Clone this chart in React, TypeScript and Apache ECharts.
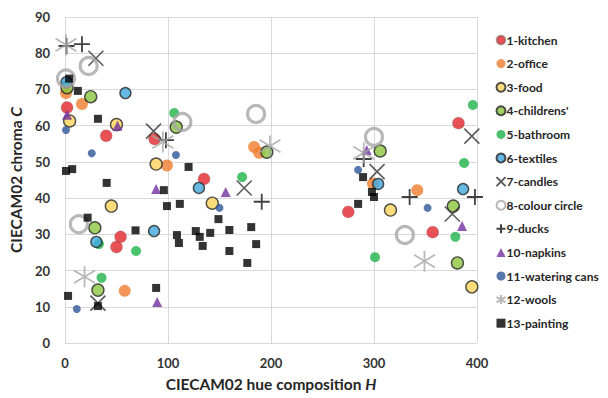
import React, { useEffect, useRef } from "react";
import * as echarts from "echarts";

const seriesNames = [
  "1-kitchen", "2-office", "3-food", "4-childrens'", "5-bathroom", "6-textiles",
  "7-candles", "8-colour circle", "9-ducks", "10-napkins", "11-watering cans", "12-wools", "13-painting",
];

const kitchen = [[2, 65], [40, 57.2], [87, 56.3], [50, 26.5], [54, 29.3], [135, 45.3], [275, 36.2], [357, 30.6], [382, 60.7]];
const office = [[1, 69], [16.5, 66], [99, 49], [58, 14.4], [183.6, 54.1], [188.5, 52.5], [299, 44], [342, 42.2]];
const food = [[4.5, 61.3], [50, 60.3], [88.5, 49.4], [45, 37.8], [143, 38.6], [316, 36.7], [395, 15.5]];
const childrens = [[2, 70.5], [25, 68], [29, 31.8], [32, 14.6], [108, 59.6], [196, 52.7], [306, 53], [377, 37.8], [381, 22.1]];
const bathroom = [[106, 63.5], [33, 27.3], [69, 25.4], [35.5, 18], [172, 45.8], [301, 23.7], [396, 65.7], [387.5, 49.7], [379, 29.3]];
const textiles = [[1.5, 72], [58.7, 69], [30.5, 27.9], [86.5, 30.9], [130, 42.8], [304, 43.9], [386.5, 42.5]];
const candles = [[30, 78.6], [86, 58.5], [32, 11], [174, 42.8], [303, 47.3], [376, 35.6], [395, 57.1]];
const colourCircle = [[1, 73], [23, 76.5], [13.5, 32.8], [114, 61], [185.5, 63.2], [300, 56.9], [330, 29.8]];
const ducks = [[1.5, 82], [16.5, 82.5], [98, 56], [191, 39], [290, 50.8], [334.6, 40.3], [398, 40.3]];
const napkins = [[2, 63], [51, 60], [88.5, 42.5], [89.5, 11.3], [156, 41.7], [293, 53.3], [385.5, 32.3]];
const wateringCans = [[1, 58.8], [26, 52.4], [11.5, 9.4], [107.7, 51.9], [150, 37.3], [284.6, 47.8], [352, 37.3]];
const wools = [[1, 82.3], [19, 18.3], [95, 55.5], [199, 54.4], [290, 52.5], [349, 22.6]];
const painting = [
  [4, 73], [12.5, 69.6], [32, 61.9], [1, 47.5], [7, 48], [40.5, 44.2], [22, 34.6], [68.5, 31.1],
  [88.5, 15.2], [3, 13], [32, 10.2], [120, 48.6], [96, 42.2], [99, 37.8], [111.5, 38.4], [149, 34.2],
  [108.7, 29.8], [110.6, 27.6], [127, 30.9], [130.8, 29.3], [133.7, 26.8], [141, 30.4], [159.6, 31.2],
  [159.6, 25.4], [180.8, 32], [185.6, 27.3], [177, 22.1], [289.4, 45.8], [298, 41.7], [300, 40.3], [284.6, 38.4],
];

const xTicks = [0, 100, 200, 300, 400];
const yTicks = [0, 10, 20, 30, 40, 50, 60, 70, 80, 90];

const FONT = "Lato";

export default function App() {
  const ref = useRef<HTMLDivElement>(null);
  useEffect(() => {
    if (!ref.current) return;
    const chart = echarts.init(ref.current, null, { renderer: "svg" });
    const X_PATH = "path://M0,0L10,10M10,0L0,10";
    const PLUS_PATH = "path://M5,0L5,10M0,5L10,5";
    const STAR_PATH = "path://M5,0L5,10M0,2L10,8M10,2L0,8";
    const mk = (name: string, data: number[][], symbol: string, size: number, itemStyle: any) => ({
      name,
      type: "scatter",
      data,
      symbol,
      symbolSize: size,
      itemStyle,
      emphasis: { disabled: true },
    });
    const series = [
      mk(seriesNames[0], kitchen, "circle", 12, { color: "#e2252b", borderColor: "rgba(90,90,90,0.5)", borderWidth: 0.6 }),
      mk(seriesNames[1], office, "circle", 12, { color: "#ef7d2d" }),
      mk(seriesNames[2], food, "circle", 12, { color: "#fdd35a", borderColor: "#262626", borderWidth: 1.4 }),
      mk(seriesNames[3], childrens, "circle", 12, { color: "#8cc63f", borderColor: "#262626", borderWidth: 1.4 }),
      mk(seriesNames[4], bathroom, "circle", 10, { color: "#1fb24a" }),
      mk(seriesNames[5], textiles, "circle", 11, { color: "#3fa8dc", borderColor: "#262626", borderWidth: 1.4 }),
      mk(seriesNames[6], candles, X_PATH, 15, { color: "none", borderColor: "#333333", borderWidth: 1.6 }),
      mk(seriesNames[7], colourCircle, "circle", 17, { color: "none", borderColor: "#a6a6a6", borderWidth: 3.2 }),
      mk(seriesNames[8], ducks, PLUS_PATH, 16, { color: "none", borderColor: "#111111", borderWidth: 1.8 }),
      mk(seriesNames[9], napkins, "triangle", 10, { color: "#7030a0" }),
      mk(seriesNames[10], wateringCans, "circle", 8, { color: "#2e5597" }),
      mk(seriesNames[11], wools, STAR_PATH, 21, { color: "none", borderColor: "#a6a6a6", borderWidth: 1.8 }),
      mk(seriesNames[12], painting, "rect", 8, { color: "#000000" }),
    ];
    chart.setOption({
      animation: false,
      backgroundColor: "#ffffff",
      textStyle: { fontFamily: FONT },
      grid: { left: 61, right: 131, top: 17, bottom: 55, containLabel: false },
      legend: {
        orient: "vertical",
        left: 489,
        top: 28,
        itemWidth: 9,
        itemHeight: 9,
        itemGap: 9.6,
        data: seriesNames.map((n) => ({ name: n })),
        textStyle: { fontFamily: FONT, fontWeight: "bold", fontSize: 12, color: "#262626", lineHeight: 14, padding: [0, 0, 0, -4] },
        selectedMode: false,
      },
      xAxis: {
        type: "value",
        min: xTicks[0],
        max: xTicks[xTicks.length - 1],
        interval: 100,
        axisLine: { show: false },
        axisTick: { show: false },
        splitLine: { show: true, lineStyle: { color: "#d9d9d9", width: 1 } },
        axisLabel: { fontFamily: FONT, fontWeight: "bold", fontSize: 13, color: "#333333", margin: 13 },
        name: "{a|CIECAM02 hue composition }{b|H}",
        nameLocation: "middle",
        nameGap: 33,
        nameTextStyle: {
          rich: {
            a: { fontFamily: FONT, fontWeight: "bold", fontSize: 15.5, color: "#262626" },
            b: { fontFamily: FONT, fontWeight: "bold", fontStyle: "italic", fontSize: 15.5, color: "#262626" },
          },
        },
      },
      yAxis: {
        type: "value",
        min: yTicks[0],
        max: yTicks[yTicks.length - 1],
        interval: 10,
        axisLine: { show: false },
        axisTick: { show: false },
        splitLine: { show: true, lineStyle: { color: "#d9d9d9", width: 1 } },
        axisLabel: { fontFamily: FONT, fontWeight: "bold", fontSize: 13, color: "#333333", margin: 15 },
        name: "{a|CIECAM02 chroma }{b|C}",
        nameLocation: "middle",
        nameGap: 38,
        nameTextStyle: {
          rich: {
            a: { fontFamily: FONT, fontWeight: "bold", fontSize: 15.5, color: "#262626" },
            b: { fontFamily: FONT, fontWeight: "bold", fontStyle: "italic", fontSize: 15.5, color: "#262626" },
          },
        },
      },
      series,
    });
    return () => chart.dispose();
  }, []);
  return <div ref={ref} style={{ position: "absolute", left: 0, top: 0, width: 608, height: 398 }} />;
}
